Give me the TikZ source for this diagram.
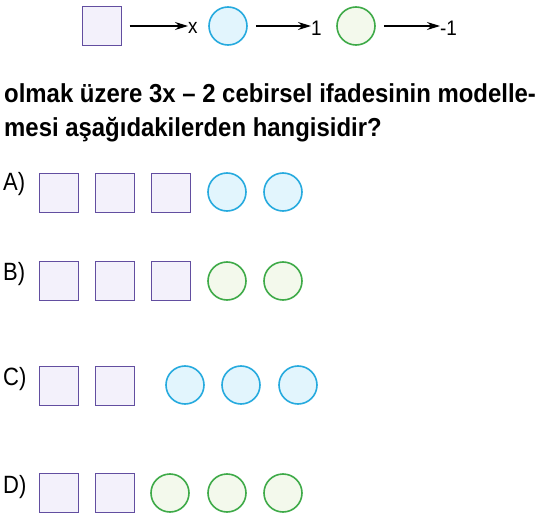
\documentclass[tikz,border=0pt]{standalone}
\usepackage{fontspec}
\setmainfont{Liberation Sans}
\usetikzlibrary{arrows.meta}
\definecolor{sqedge}{RGB}{98,78,160}
\definecolor{sqfill}{RGB}{243,241,251}
\definecolor{bledge}{RGB}{38,170,222}
\definecolor{blfill}{RGB}{226,245,253}
\definecolor{gredge}{RGB}{62,170,72}
\definecolor{grfill}{RGB}{243,249,236}
\tikzset{
  sq/.style={draw=sqedge,fill=sqfill,line width=1.6pt,minimum size=39pt,inner sep=0pt,outer sep=0pt},
  bc/.style={circle,draw=bledge,fill=blfill,line width=1.6pt,minimum size=38pt,inner sep=0pt},
  gc/.style={circle,draw=gredge,fill=grfill,line width=1.6pt,minimum size=38pt,inner sep=0pt},
  arr/.style={line width=1.3pt,-{Stealth[length=13pt,width=8pt]}},
  hlab/.style={font=\fontsize{21}{24}\selectfont\addfontfeatures{FakeStretch=0.9},inner sep=0pt,anchor=base west},
  lab/.style={font=\fontsize{25}{28}\selectfont\addfontfeatures{FakeStretch=0.88},inner sep=0pt,anchor=base west},
  qtext/.style={font=\fontsize{26}{30}\selectfont\bfseries\addfontfeatures{FakeStretch=0.92},inner sep=0pt,anchor=base west},
}
\begin{document}
\begin{tikzpicture}[x=1pt,y=-1pt]
\useasboundingbox (0,0) rectangle (542,522);
% header
\node[sq] (hs) at (102,26) {};
\coordinate (a1e) at (188,26);
\node[hlab] (hx) at (188,34) {x};
\node[bc] (hb) at (228,26) {};
\coordinate (a2e) at (311,26);
\node[hlab] (h1) at (311,35) {1};
\node[gc] (hg) at (356,26) {};
\coordinate (a3e) at (440,26);
\node[hlab] (hm) at (440,35) {-1};
\draw[arr] ([xshift=8pt]hs.east) -- (a1e);
\draw[arr] ([xshift=8pt]hb.east) -- (a2e);
\draw[arr] ([xshift=8pt]hg.east) -- (a3e);
% question
\node[qtext] (q1) at (4,102) {olmak üzere 3x – 2 cebirsel ifadesinin modelle-};
\node[qtext] (q2) at (4,136) {mesi aşağıdakilerden hangisidir?};
% A
\node[lab] (la) at (3,190) {A)};
\node[sq] (a1) at (59,193) {};
\node[sq] (a2) at (115,193) {};
\node[sq] (a3) at (171,193) {};
\node[bc] (a4) at (227,192) {};
\node[bc] (a5) at (283,192) {};
% B
\node[lab] (lb) at (3,280) {B)};
\node[sq] (b1) at (59,281) {};
\node[sq] (b2) at (115,281) {};
\node[sq] (b3) at (171,281) {};
\node[gc] (b4) at (227,281) {};
\node[gc] (b5) at (283,281) {};
% C
\node[lab] (lc) at (3,385) {C)};
\node[sq] (c1) at (59,386) {};
\node[sq] (c2) at (115,386) {};
\node[bc] (c3) at (185,385) {};
\node[bc] (c4) at (241,385) {};
\node[bc] (c5) at (298,385) {};
% D
\node[lab] (ld) at (3,493) {D)};
\node[sq] (d1) at (59,493) {};
\node[sq] (d2) at (115,493) {};
\node[gc] (d3) at (170,493) {};
\node[gc] (d4) at (227,493) {};
\node[gc] (d5) at (283,493) {};
\end{tikzpicture}
\end{document}
